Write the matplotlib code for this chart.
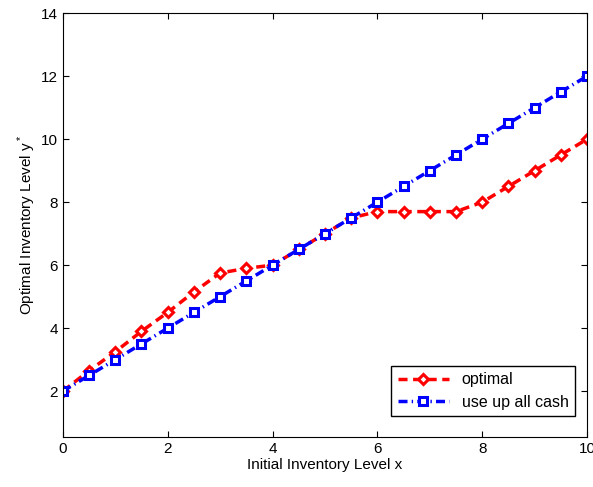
import numpy as np
import matplotlib
matplotlib.use('Agg')
import matplotlib.pyplot as plt

plt.rcParams['font.family'] = ['Liberation Sans', 'DejaVu Sans']
plt.rcParams['mathtext.fontset'] = 'custom'
plt.rcParams['mathtext.rm'] = 'Liberation Sans'
plt.rcParams['lines.scale_dashes'] = False

x_levels = [0, 0.5, 1, 1.5, 2, 2.5, 3, 3.5, 4, 4.5, 5, 5.5, 6, 6.5, 7, 7.5, 8, 8.5, 9, 9.5, 10]
y_optimal = [2.0, 2.65, 3.25, 3.9, 4.5, 5.15, 5.75, 5.9, 6.0, 6.5, 7.0, 7.5, 7.7, 7.7, 7.7, 7.7, 8.0, 8.5, 9.0, 9.5, 10.0]
y_cash = [2.0, 2.5, 3.0, 3.5, 4.0, 4.5, 5.0, 5.5, 6.0, 6.5, 7.0, 7.5, 8.0, 8.5, 9.0, 9.5, 10.0, 10.5, 11.0, 11.5, 12.0]

fig = plt.figure(figsize=(5.93, 4.87), dpi=100)
ax = fig.add_axes([0.106, 0.103, 0.884, 0.870])

ax.plot(x_levels, y_optimal, color='red', linewidth=2.5,
		marker='D', markersize=5.5, markerfacecolor='white', markeredgewidth=2.2,
		dashes=(6.5, 4), label='optimal')
ax.plot(x_levels, y_cash, color='blue', linewidth=2.5,
		marker='s', markersize=5.5, markerfacecolor='white', markeredgewidth=2.2,
		dashes=(6.5, 3, 1, 3), label='use up all cash')

ax.set_xlim(0, 10)
ax.set_ylim(0.55, 14)
ax.set_xticks([0, 2, 4, 6, 8, 10])
ax.set_yticks([2, 4, 6, 8, 10, 12, 14])
ax.tick_params(direction='in', top=True, right=True, labelsize=11, length=4)
ax.set_xlabel('Initial Inventory Level x', fontsize=11, labelpad=2)
ax.set_ylabel('Optimal Inventory Level y$^*$', fontsize=11, labelpad=2)

# legend box placed in figure coordinates to sit like the reference
leg = ax.legend(loc='lower right', bbox_to_anchor=(575 / 593, 1 - 416 / 487),
				bbox_transform=fig.transFigure, borderaxespad=0,
				fontsize=11.5, fancybox=False, edgecolor='black',
				handlelength=3.2, labelspacing=0.45, framealpha=1)
leg.get_frame().set_linewidth(1.0)

plt.savefig('out.png', dpi=100)
plt.close()
